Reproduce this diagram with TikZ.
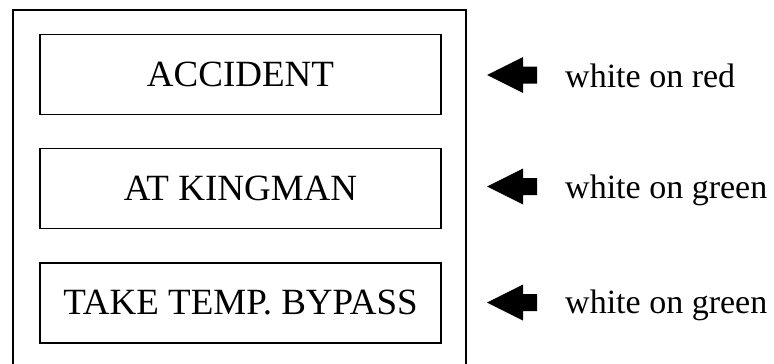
\documentclass[tikz,border=0pt]{standalone}
\usepackage{fontspec}
\setmainfont{Liberation Serif}
\begin{document}
\begin{tikzpicture}[x=1pt,y=-1pt,
  panel/.style={draw, line width=1.7pt, minimum width=401pt, minimum height=80pt,
    inner sep=0pt, font=\fontsize{37}{40}\selectfont},
  note/.style={anchor=base west, inner sep=0pt, font=\fontsize{34}{36}\selectfont},
  frame/.style={line width=1.8pt},
  pics/leftarrow/.style={code={
    \fill (-23,0) -- (13,-18) -- (13,-8.5) -- (27,-8.5) -- (27,8.5) -- (13,8.5) -- (13,18) -- cycle;}}]
\useasboundingbox (0,0) rectangle (774,364);
% outer frame (open at the bottom edge)
\coordinate (fbl) at (12.7,366);
\coordinate (ftl) at (12.7,10);
\coordinate (ftr) at (466,10);
\coordinate (fbr) at (466,366);
\draw[frame] (fbl) -- (ftl) -- (ftr) -- (fbr);
% panels
\node[panel] (p1) at (240.5,74.5) {ACCIDENT};
\node[panel] (p2) at (240.5,188.5) {AT KINGMAN};
\node[panel] (p3) at (240.5,303) {TAKE TEMP. BYPASS};
% arrows and notes
\pic at (510,75) {leftarrow};
\pic at (510,186.5) {leftarrow};
\pic at (510,302.5) {leftarrow};
\node[note] (n1) at (565,87) {white on red};
\node[note] (n2) at (565,198) {white on green};
\node[note] (n3) at (565,313) {white on green};
\end{tikzpicture}
\end{document}
